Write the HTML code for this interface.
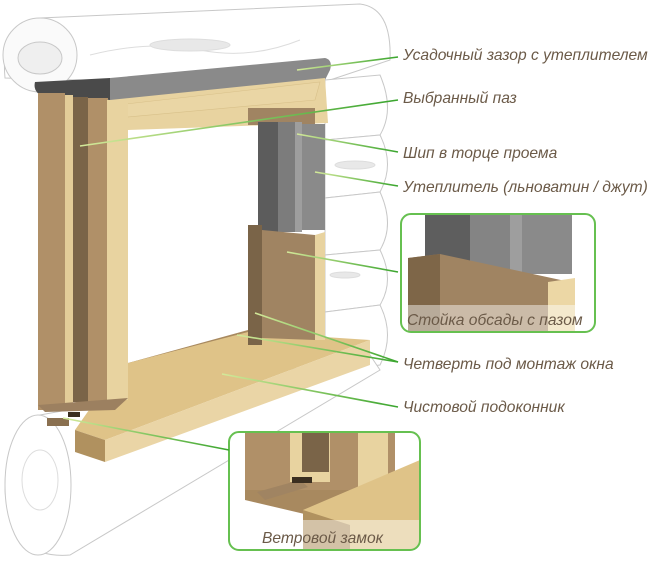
<!DOCTYPE html>
<html><head><meta charset="utf-8"><style>
html,body{margin:0;padding:0;background:#fff;width:657px;height:562px;overflow:hidden}
text{font-family:"Liberation Sans",sans-serif;font-style:italic;font-size:15.6px;fill:#6b5a48}
</style></head><body>
<svg width="657" height="562" viewBox="0 0 657 562" xmlns="http://www.w3.org/2000/svg">
<g fill="#fff" stroke="#c8c8c8" stroke-width="1">
<!-- top log -->
<path d="M5,78 Q0,25 40,18 L360,4 Q392,8 390,60 L330,80 L80,80 Z"/>
<ellipse cx="40" cy="55" rx="37" ry="37" fill="#fafafa"/>
<ellipse cx="40" cy="58" rx="22" ry="16" fill="#efefef"/>
<path d="M90,55 Q150,40 200,50 T300,40" fill="none" stroke="#ddd"/>
<ellipse cx="190" cy="45" rx="40" ry="6" fill="#e8e8e8" stroke="#ddd"/>
<!-- right side logs -->
<path d="M325,80 L380,75 Q395,110 380,135 L325,140 Z"/>
<path d="M325,140 L380,135 Q395,165 380,192 L325,198 Z"/>
<path d="M325,198 L380,192 Q395,225 380,250 L325,255 Z"/>
<path d="M325,255 L380,250 Q395,280 380,305 L325,312 Z"/>
<path d="M325,312 L380,305 Q395,335 380,365 L325,372 Z"/>
<ellipse cx="355" cy="165" rx="20" ry="4" fill="#e8e8e8" stroke="#ddd"/>
<ellipse cx="345" cy="275" rx="15" ry="3" fill="#e8e8e8" stroke="#ddd"/>
<!-- bottom log -->
<path d="M40,415 L370,355 L380,370 L70,555 Q10,560 5,490 Q5,430 40,415 Z"/>
<ellipse cx="38" cy="485" rx="33" ry="70" fill="#fff"/>
<ellipse cx="40" cy="480" rx="18" ry="30" fill="none" stroke="#ddd"/>
</g>
<!-- sill (behind left post) -->
<path d="M128,363 L248,330 L248,338 L130,372 Z" fill="#a8895f"/>
<path d="M75,430 L110,380 L128,363 L248,332 L370,340 L105,440 Z" fill="#dfc388"/>
<path d="M75,430 L105,440 L105,462 L75,452 Z" fill="#b0915f"/>
<path d="M105,440 L370,340 L370,365 L105,462 Z" fill="#ead5a6"/>
<!-- gray insulator -->
<path d="M35,82 L110,78 L110,100 L40,95 Q33,90 35,82Z" fill="#4a4a4a"/>
<path d="M110,78 L325,58 Q333,60 330,70 L325,80 L110,102 Z" fill="#8a8a8a"/>
<!-- lintel -->
<path d="M110,100 L325,78 L328,123 L128,130 Z" fill="#e8d3a0"/>
<path d="M117,105 L320,82 L315,100 L117,118 Z" fill="#ead6a5" stroke="#d8c08a" stroke-width="0.6"/>
<!-- left post -->
<rect x="38" y="93" width="27" height="317" fill="#b09068"/>
<rect x="65" y="95" width="8" height="310" fill="#e3cc98"/>
<rect x="73" y="97" width="15" height="305" fill="#7a6448"/>
<rect x="88" y="98" width="20" height="310" fill="#b09068"/>
<rect x="107" y="100" width="21" height="300" fill="#e8d3a0"/>
<path d="M38,405 L128,398 L115,410 L45,412 Z" fill="#9c8060"/>
<!-- right upper insulation -->
<rect x="248" y="108" width="67" height="17" fill="#a08462"/>
<rect x="258" y="122" width="20" height="110" fill="#5c5c5c"/>
<rect x="278" y="122" width="17" height="110" fill="#7c7c7c"/>
<rect x="295" y="122" width="7" height="110" fill="#9e9e9e"/>
<rect x="302" y="124" width="23" height="106" fill="#8a8a8a"/>
<!-- right lower post -->
<path d="M248,225 L262,225 L262,345 L248,345 Z" fill="#7a6448"/>
<path d="M262,230 L315,235 L315,340 L262,338 Z" fill="#a08462"/>
<path d="M315,235 L325,232 L325,340 L315,340 Z" fill="#e8d3a0"/>
<!-- wind lock -->
<rect x="47" y="418" width="22" height="8" fill="#8a7050"/>
<rect x="68" y="412" width="12" height="5" fill="#3a2e20"/>
<!-- insets -->
<defs><clipPath id="c1"><rect x="401" y="214" width="194" height="118" rx="10"/></clipPath>
<clipPath id="c2"><rect x="229" y="432" width="191" height="118" rx="10"/></clipPath>
<linearGradient id="g" x1="0" x2="1"><stop offset="0" stop-color="#d4e99a"/><stop offset="1" stop-color="#3aa52e"/></linearGradient></defs>
<g clip-path="url(#c1)">
<rect x="401" y="214" width="194" height="118" fill="#fff"/>
<rect x="425" y="214" width="45" height="50" fill="#5e5e5e"/>
<rect x="470" y="214" width="40" height="60" fill="#848484"/>
<rect x="510" y="214" width="12" height="60" fill="#9e9e9e"/>
<rect x="522" y="214" width="50" height="60" fill="#8a8a8a"/>
<path d="M408,258 L440,254 L570,282 L570,332 L408,332 Z" fill="#a08462"/>
<path d="M408,258 L440,254 L440,332 L408,332Z" fill="#7e6648"/>
<path d="M548,282 L575,278 L575,332 L548,332Z" fill="#ecd7a5"/>
<rect x="401" y="305" width="194" height="27" fill="#fff" opacity="0.45"/>
</g>
<rect x="401" y="214" width="194" height="118" rx="10" fill="none" stroke="#66c050" stroke-width="2"/>
<text x="407" y="325">Стойка обсады с пазом</text>
<g clip-path="url(#c2)">
<rect x="229" y="432" width="191" height="118" fill="#fff"/>
<rect x="245" y="432" width="150" height="60" fill="#b09068"/>
<rect x="290" y="432" width="40" height="50" fill="#e8d3a0"/>
<rect x="302" y="432" width="27" height="40" fill="#7a6448"/>
<rect x="358" y="432" width="30" height="70" fill="#e8d3a0"/>
<path d="M245,490 L395,490 L395,500 L330,520 L245,500Z" fill="#a8895f"/>
<path d="M257,492 L300,480 L308,487 L265,500Z" fill="#a08462"/>
<rect x="292" y="477" width="20" height="6" fill="#3a2e20"/>
<path d="M303,510 L420,460 L420,550 L303,550Z" fill="#dfc388"/>
<path d="M303,510 L350,525 L350,550 L303,550Z" fill="#b0915f"/>
<rect x="229" y="520" width="191" height="30" fill="#fff" opacity="0.45"/>
</g>
<rect x="229" y="432" width="191" height="118" rx="10" fill="none" stroke="#66c050" stroke-width="2"/>
<text x="262" y="543">Ветровой замок</text>
<!-- leader lines -->
<g stroke="url(#g)" stroke-width="1.6" fill="none">
<line x1="297" y1="70" x2="398" y2="57"/>
<line x1="80" y1="146" x2="398" y2="100"/>
<line x1="297" y1="134" x2="398" y2="152"/>
<line x1="315" y1="172" x2="398" y2="186"/>
<line x1="287" y1="252" x2="398" y2="272"/>
<line x1="255" y1="313" x2="398" y2="362"/>
<line x1="237" y1="335" x2="398" y2="362"/>
<line x1="222" y1="374" x2="398" y2="407"/>
<line x1="63" y1="418" x2="229" y2="450"/>
</g>
<text x="403" y="60">Усадочный зазор с утеплителем</text>
<text x="403" y="103">Выбранный паз</text>
<text x="403" y="158">Шип в торце проема</text>
<text x="403" y="192">Утеплитель (льноватин / джут)</text>
<text x="403" y="369">Четверть под монтаж окна</text>
<text x="403" y="412">Чистовой подоконник</text>
</svg>
</body></html>
